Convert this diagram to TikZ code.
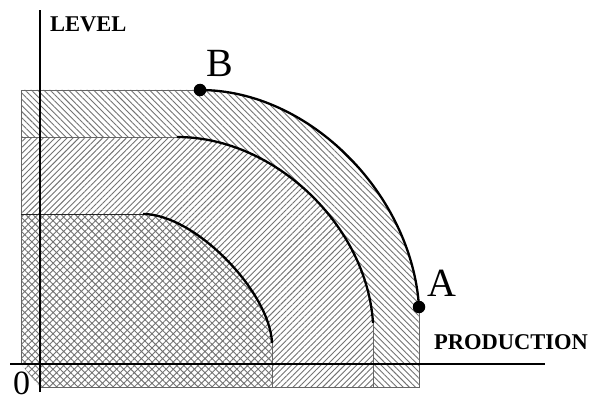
\documentclass[tikz,border=0pt]{standalone}
\usepackage{fontspec}
\setmainfont{Liberation Serif}
\usetikzlibrary{patterns.meta}
\begin{document}
\begin{tikzpicture}[x=1pt,y=-1pt,
  hatchA/.style={pattern={Lines[angle=-45,distance=4.4pt,line width=0.9pt]},pattern color=black!55},
  hatchB/.style={pattern={Lines[angle=45,distance=4.2pt,line width=0.9pt]},pattern color=black!55},
  hatchC/.style={pattern={Hatch[angle=45,distance=5pt,line width=0.9pt]},pattern color=black!55},
  border/.style={line width=0.7pt,black!60},
  curve/.style={line width=2.3pt,black},
  axis/.style={line width=1.5pt,black},
  dot/.style={circle,fill=black,inner sep=0pt,minimum size=12.5pt},
  lbl/.style={font=\bfseries\fontsize{22.5}{22.5}\selectfont,inner sep=0pt,anchor=base west},
  big/.style={font=\fontsize{40}{40}\selectfont,inner sep=0pt,anchor=base west}]
\useasboundingbox (0,0) rectangle (596,401);
% coordinates
\coordinate (B) at (200,90);
\coordinate (A) at (419,307);
\coordinate (M1) at (177,137);
\coordinate (M2) at (373,323);
\coordinate (I1) at (143,214);
\coordinate (I2) at (272,343);
% outer band
\fill[white] (21,364) -- (21,90) -- (B) .. controls (310,90) and (412,195) .. (A) -- (419,387) -- (40,387) -- cycle;
\fill[hatchA] (21,364) -- (21,90) -- (B) .. controls (310,90) and (412,195) .. (A) -- (419,387) -- (40,387) -- cycle;
% middle band
\fill[white] (21,364) -- (21,137) -- (M1) .. controls (275,137) and (367,226) .. (M2) -- (373,387) -- (40,387) -- cycle;
\fill[hatchB] (21,364) -- (21,137) -- (M1) .. controls (275,137) and (367,226) .. (M2) -- (373,387) -- (40,387) -- cycle;
% inner region
\fill[white] (21,364) -- (21,214) -- (I1) .. controls (195,214) and (270,292) .. (I2) -- (272,387) -- (40,387) -- cycle;
\fill[hatchC] (21,364) -- (21,214) -- (I1) .. controls (195,214) and (270,292) .. (I2) -- (272,387) -- (40,387) -- cycle;
% borders
\draw[border] (21,364) -- (21,90) -- (B);
\draw[border] (A) -- (419,387) -- (40,387);
\draw[border] (21,137) -- (M1);
\draw[border] (M2) -- (373,387);
\draw[border,black!85] (21,214) -- (I1);
\draw[border] (I2) -- (272,387);
% curves
\draw[curve] (B) .. controls (310,90) and (412,195) .. (A);
\draw[curve] (M1) .. controls (275,137) and (367,226) .. (M2);
\draw[curve] (I1) .. controls (195,214) and (270,292) .. (I2);
% axes
\coordinate (ytop) at (40,10);
\coordinate (ybot) at (40,392);
\coordinate (xl) at (10,364);
\coordinate (xr) at (545,364);
\draw[axis] (ybot) -- (ytop);
\draw[axis] (xl) -- (xr);
% dots
\node[dot] (dB) at (B) {};
\node[dot] (dA) at (A) {};
% labels
\node[lbl] (level) at (50,32) {LEVEL};
\node[lbl] (prod) at (434,349) {PRODUCTION};
\node[big] (lB) at (206,77) {B};
\node[big] (lA) at (427,296) {A};
\node[big,font=\fontsize{34}{34}\selectfont] (zero) at (13,394) {0};
\end{tikzpicture}
\end{document}
